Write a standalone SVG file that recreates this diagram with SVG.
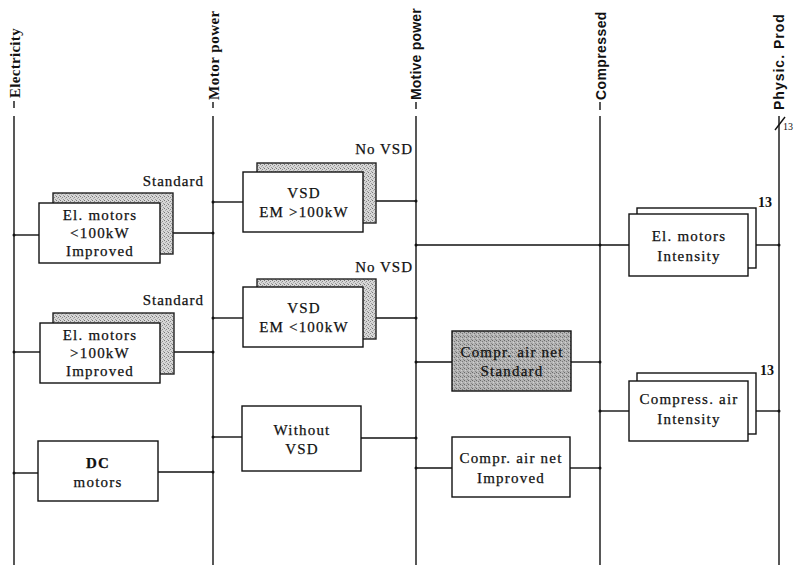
<svg xmlns="http://www.w3.org/2000/svg" width="795" height="565" viewBox="0 0 795 565">
<defs>
<pattern id="stip" width="4" height="4" patternUnits="userSpaceOnUse">
<rect width="4" height="4" fill="#d6d6d6"/>
<rect x="0" y="0" width="1" height="1" fill="#777"/>
<rect x="2" y="1" width="1" height="1" fill="#8a8a8a"/>
<rect x="3" y="3" width="1" height="1" fill="#999"/>
<rect x="1" y="2" width="1" height="1" fill="#aaa"/>
</pattern>
<pattern id="stip2" width="4" height="4" patternUnits="userSpaceOnUse">
<rect width="4" height="4" fill="#b4b4b4"/>
<rect x="0" y="0" width="1" height="1" fill="#6a6a6a"/>
<rect x="2" y="1" width="1" height="1" fill="#777"/>
<rect x="3" y="3" width="1" height="1" fill="#888"/>
<rect x="1" y="2" width="1" height="1" fill="#d0d0d0"/>
</pattern>
</defs>
<style>
.bus{stroke:#111;stroke-width:1.4;fill:none}
.con{stroke:#111;stroke-width:1.4;fill:none}
.box{fill:#fff;stroke:#111;stroke-width:1.4}
.shadow{fill:url(#stip);stroke:#222;stroke-width:1.4}
.dark{fill:url(#stip2);stroke:#111;stroke-width:1.4}
.t{font-family:"Liberation Serif","Times New Roman",serif;font-size:15px;letter-spacing:1.2px;fill:#111;stroke:#111;stroke-width:0.25;text-anchor:middle}
.lbl{font-family:"Liberation Serif","Times New Roman",serif;font-size:15px;letter-spacing:1px;fill:#111;stroke:#111;stroke-width:0.25;text-anchor:end}
.axs{font-family:"Liberation Serif","Times New Roman",serif;font-weight:bold;font-size:15px;fill:#111}
.axg{font-family:"Liberation Sans",Arial,sans-serif;font-weight:bold;font-size:14px;fill:#111}
.dot{fill:#111}
</style>
<rect width="795" height="565" fill="#fff"/>

<g id="buses">
<line class="bus" x1="14" y1="101" x2="14" y2="108"/>
<line class="bus" x1="14" y1="116" x2="14" y2="565"/>
<text class="axs" transform="translate(19.5,98) rotate(-90)" style="letter-spacing:0.3px">Electricity</text>
<line class="bus" x1="213" y1="102" x2="213" y2="108"/>
<line class="bus" x1="213" y1="116" x2="213" y2="565"/>
<text class="axs" transform="translate(218.5,100) rotate(-90)" style="letter-spacing:0.5px">Motor power</text>
<line class="bus" x1="416" y1="102" x2="416" y2="109"/>
<line class="bus" x1="416" y1="116" x2="416" y2="565"/>
<text class="axg" transform="translate(421,100) rotate(-90)" style="letter-spacing:0.2px">Motive power</text>
<line class="bus" x1="600" y1="102" x2="600" y2="110"/>
<line class="bus" x1="600" y1="116" x2="600" y2="565"/>
<text class="axg" transform="translate(606,100) rotate(-90)" style="letter-spacing:0.4px">Compressed</text>
<line class="bus" x1="779" y1="116" x2="779" y2="565"/>
<line class="bus" x1="775" y1="130" x2="785" y2="117"/>
<text class="axg" transform="translate(784,110) rotate(-90)" style="letter-spacing:1px">Physic. Prod</text>
<text x="783" y="130" style="font-family:'Liberation Serif',serif;font-size:10px;fill:#111">13</text>
</g>

<g id="connectors">
<line class="con" x1="14" y1="235" x2="39" y2="235"/>
<line class="con" x1="173" y1="233" x2="213" y2="233"/>
<line class="con" x1="213" y1="202" x2="243" y2="202"/>
<line class="con" x1="376" y1="201" x2="416" y2="201"/>
<line class="con" x1="14" y1="352" x2="40" y2="352"/>
<line class="con" x1="174" y1="352" x2="213" y2="352"/>
<line class="con" x1="213" y1="318" x2="243" y2="318"/>
<line class="con" x1="376" y1="318" x2="416" y2="318"/>
<line class="con" x1="14" y1="473" x2="38" y2="473"/>
<line class="con" x1="158" y1="472" x2="213" y2="472"/>
<line class="con" x1="213" y1="437" x2="242" y2="437"/>
<line class="con" x1="361" y1="438" x2="416" y2="438"/>
<line class="con" x1="416" y1="245" x2="629" y2="245"/>
<line class="con" x1="756" y1="245" x2="779" y2="245"/>
<line class="con" x1="416" y1="362" x2="452" y2="362"/>
<line class="con" x1="571" y1="362" x2="600" y2="362"/>
<line class="con" x1="416" y1="468" x2="452" y2="468"/>
<line class="con" x1="570" y1="468" x2="600" y2="468"/>
<line class="con" x1="600" y1="411" x2="629" y2="411"/>
<line class="con" x1="756" y1="411" x2="779" y2="411"/>
<circle class="dot" cx="14" cy="235" r="1.5"/>
<circle class="dot" cx="213" cy="233" r="1.5"/>
<circle class="dot" cx="213" cy="202" r="1.5"/>
<circle class="dot" cx="416" cy="201" r="1.5"/>
<circle class="dot" cx="14" cy="352" r="1.5"/>
<circle class="dot" cx="213" cy="352" r="1.5"/>
<circle class="dot" cx="213" cy="318" r="1.5"/>
<circle class="dot" cx="416" cy="318" r="1.5"/>
<circle class="dot" cx="14" cy="473" r="1.5"/>
<circle class="dot" cx="213" cy="472" r="1.5"/>
<circle class="dot" cx="213" cy="437" r="1.5"/>
<circle class="dot" cx="416" cy="438" r="1.5"/>
<circle class="dot" cx="416" cy="245" r="1.5"/>
<circle class="dot" cx="600" cy="245" r="1.5"/>
<circle class="dot" cx="779" cy="245" r="1.5"/>
<circle class="dot" cx="416" cy="362" r="1.5"/>
<circle class="dot" cx="600" cy="362" r="1.5"/>
<circle class="dot" cx="416" cy="468" r="1.5"/>
<circle class="dot" cx="600" cy="468" r="1.5"/>
<circle class="dot" cx="600" cy="411" r="1.5"/>
<circle class="dot" cx="779" cy="411" r="1.5"/>
</g>

<g id="elmotors-small">
<rect class="shadow" x="53" y="193" width="120" height="61"/>
<rect class="box" x="39" y="203" width="121" height="60"/>
<text class="lbl" x="204" y="186">Standard</text>
<text class="t" x="100" y="220">El. motors</text>
<text class="t" x="100" y="238">&lt;100kW</text>
<text class="t" x="100" y="256">Improved</text>
</g>

<g id="vsd-large">
<rect class="shadow" x="257" y="163" width="119" height="60"/>
<rect class="box" x="243" y="172" width="120" height="60"/>
<text class="lbl" x="413" y="154">No VSD</text>
<text class="t" x="304" y="198">VSD</text>
<text class="t" x="304" y="217">EM &gt;100kW</text>
</g>

<g id="vsd-small">
<rect class="shadow" x="257" y="279" width="119" height="60"/>
<rect class="box" x="243" y="287" width="120" height="60"/>
<text class="lbl" x="413" y="272">No VSD</text>
<text class="t" x="304" y="313">VSD</text>
<text class="t" x="304" y="332">EM &lt;100kW</text>
</g>

<g id="elmotors-large">
<rect class="shadow" x="53" y="313" width="121" height="61"/>
<rect class="box" x="40" y="323" width="120" height="60"/>
<text class="lbl" x="204" y="305">Standard</text>
<text class="t" x="100" y="340">El. motors</text>
<text class="t" x="100" y="358">&gt;100kW</text>
<text class="t" x="100" y="376">Improved</text>
</g>

<g id="dc-motors">
<rect class="box" x="38" y="441" width="120" height="60"/>
<text class="t" x="98" y="468" style="font-weight:bold">DC</text>
<text class="t" x="98" y="487">motors</text>
</g>

<g id="without-vsd">
<rect class="box" x="242" y="406" width="119" height="65"/>
<text class="t" x="302" y="435">Without</text>
<text class="t" x="302" y="454">VSD</text>
</g>

<g id="el-intensity">
<rect class="box" x="637" y="208" width="119" height="60"/>
<rect class="box" x="629" y="214" width="119" height="62"/>
<text x="758" y="207" style="font-family:'Liberation Serif',serif;font-size:14px;font-weight:bold;fill:#111">13</text>
<text class="t" x="689" y="241">El. motors</text>
<text class="t" x="689" y="261">Intensity</text>
</g>

<g id="compr-standard">
<rect class="dark" x="452" y="331" width="119" height="60"/>
<text class="t" x="512" y="357">Compr. air net</text>
<text class="t" x="512" y="376">Standard</text>
</g>

<g id="compr-improved">
<rect class="box" x="452" y="437" width="118" height="60"/>
<text class="t" x="511" y="463">Compr. air net</text>
<text class="t" x="511" y="483">Improved</text>
</g>

<g id="compr-intensity">
<rect class="box" x="637" y="373" width="119" height="61"/>
<rect class="box" x="629" y="381" width="119" height="60"/>
<text x="760" y="375" style="font-family:'Liberation Serif',serif;font-size:14px;font-weight:bold;fill:#111">13</text>
<text class="t" x="689" y="404">Compress. air</text>
<text class="t" x="689" y="424">Intensity</text>
</g>
</svg>
